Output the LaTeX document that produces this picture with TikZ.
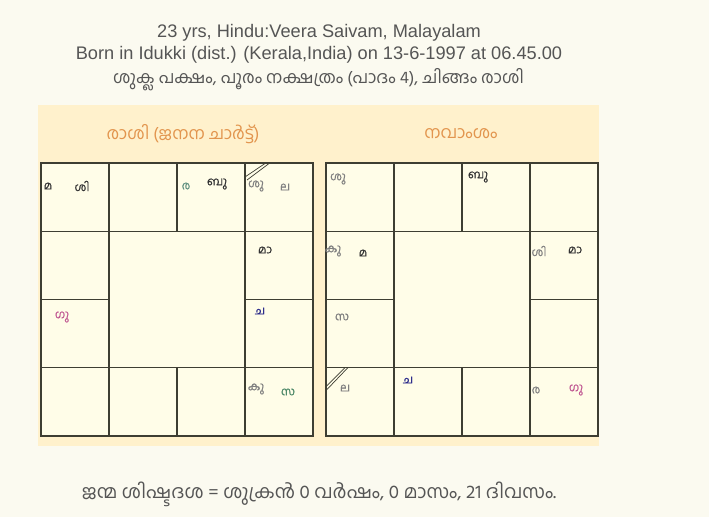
\documentclass[tikz,border=0pt]{standalone}
\usepackage{fontspec}
\setmainfont{Liberation Sans}
\newfontfamily\ml[Script=Malayalam]{Hind Kochi}
\newfontfamily\mllbl[Script=Malayalam,FakeBold=0.6]{Hind Kochi}
\definecolor{pagebg}{HTML}{FBFAF0}
\definecolor{panelbg}{HTML}{FFF1CC}
\definecolor{cellbg}{HTML}{FFFDE8}
\definecolor{gridc}{HTML}{3E3E32}
\definecolor{headc}{HTML}{555555}
\definecolor{titlec}{HTML}{E2954E}
\definecolor{lblc}{HTML}{333333}
\definecolor{ravic}{HTML}{5E8F80}
\definecolor{guruc}{HTML}{C25C95}
\definecolor{chanc}{HTML}{2E2E8C}
\definecolor{sarpc}{HTML}{4F8A6A}
\begin{document}
\begin{tikzpicture}[x=1pt,y=-1pt,
  head/.style={font=\fontsize{18.2}{22}\selectfont, text=headc, inner sep=0pt, anchor=base},
  mlhead/.style={font=\ml\fontsize{17}{22}\selectfont, text=headc, inner sep=0pt, anchor=base},
  ctitle/.style={font=\ml\fontsize{17}{22}\selectfont, text=titlec, inner sep=0pt},
  lbl/.style={font=\mllbl\fontsize{11.5}{13}\selectfont, text=lblc, inner sep=0pt},
  cellline/.style={draw=gridc, line width=1.4pt},
  slash/.style={draw=gridc, line width=0.7pt}]
\useasboundingbox (0,0) rectangle (709,517);
\fill[pagebg] (0,0) rectangle (709,517);
% header texts
\node[head] (h1) at (319,37) {23 yrs, Hindu:Veera Saivam, Malayalam};
\node[head] (h2) at (319,59) {Born in Idukki (dist.) (Kerala,India) on 13-6-1997 at 06.45.00};
\node[mlhead] (h3) at (318.5,83) {ശുക്ല പക്ഷം, പൂരം നക്ഷത്രം (പാദം 4), ചിങ്ങം രാശി};
% panel
\fill[panelbg] (38,105) rectangle (599,446);
\node[ctitle] (t1) at (183,134) {രാശി (ജനന ചാർട്ട്)};
\node[ctitle] (t2) at (461,134) {നവാംശം};
% grids
\foreach \ox in {41,326}{
  \fill[cellbg] (\ox,163) rectangle (\ox+272,436);
  \foreach \i/\j in {0/0,1/0,2/0,3/0,0/1,3/1,0/2,3/2,0/3,1/3,2/3,3/3}{
    \draw[cellline] (\ox+68*\i,163+68.25*\j) rectangle (\ox+68*\i+68,163+68.25*\j+68.25);
  }
}
% Rasi chart labels
\node[lbl] (r1) at (48,186) {മ};
\node[lbl] (r2) at (82,186) {ശി};
\node[lbl,text=ravic] (r3) at (186,186) {ര};
\node[lbl] (r4) at (217,184) {ബു};
\node[lbl,text=gray] (r5) at (256,186) {ശു};
\node[lbl,text=gray] (r6) at (285,187) {ല};
\node[lbl] (r7) at (265,250) {മാ};
\node[lbl,text=guruc] (r8) at (62,317) {ഗു};
\node[lbl,text=chanc] (r9) at (260,311) {ച};
\node[lbl,text=gray] (r10) at (256,389) {കു};
\node[lbl,text=sarpc] (r11) at (288,392) {സ};
\draw[slash] (245,177) -- (265,163.5);
\draw[slash] (247,180) -- (269,163.5);
% Navamsa chart labels
\node[lbl,text=gray] (n1) at (338,179) {ശു};
\node[lbl] (n2) at (478,177) {ബു};
\node[lbl,text=gray] (n3) at (333,251) {കു};
\node[lbl] (n4) at (363,253) {മ};
\node[lbl,text=gray] (n5) at (539,251) {ശി};
\node[lbl] (n6) at (575,250) {മാ};
\node[lbl,text=gray] (n7) at (342,317) {സ};
\node[lbl,text=gray] (n8) at (345,388) {ല};
\node[lbl,text=chanc] (n9) at (408,380) {ച};
\node[lbl,text=gray] (n10) at (536,390) {ര};
\node[lbl,text=guruc] (n11) at (576,390) {ഗു};
\draw[slash] (326.5,386) -- (345,367.5);
\draw[slash] (326.5,390) -- (348,367.5);
% bottom line
\node[mlhead,font=\ml\fontsize{18.7}{22}\selectfont] (b1) at (319,498) {ജന്മ ശിഷ്ടദശ = ശുക്രൻ 0 വർഷം, 0 മാസം, 21 ദിവസം.};
\end{tikzpicture}
\end{document}
